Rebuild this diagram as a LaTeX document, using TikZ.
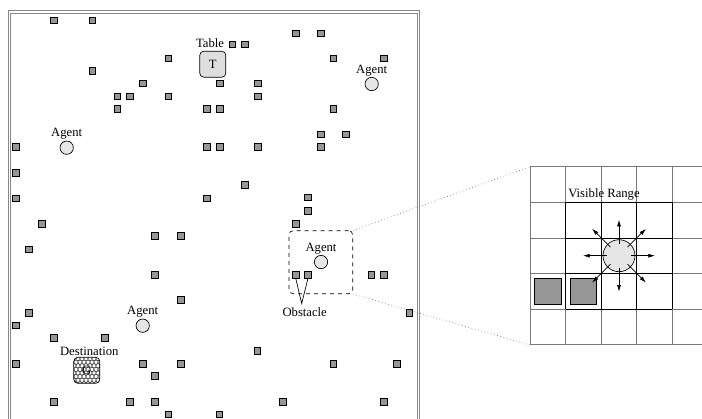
\documentclass[tikz,border=0pt]{standalone}
\usepackage{fontspec}
\setmainfont{Liberation Serif}
\usetikzlibrary{arrows.meta,calc}
\definecolor{obsgray}{RGB}{150,150,150}
\definecolor{agentgray}{RGB}{230,230,230}
\definecolor{tablegray}{RGB}{222,222,222}
\definecolor{framegray}{RGB}{135,135,135}
\definecolor{linegray}{RGB}{120,120,120}
\def\cs{35.6}

\begin{document}
\begin{tikzpicture}[x=0.75pt,y=-0.75pt,font=\fontsize{9.5}{11}\selectfont,
  obs/.style={draw,fill=obsgray,line width=0.5pt,minimum size=4.9pt,inner sep=0pt},
  bigobs/.style={draw,fill=obsgray,line width=0.5pt,minimum size=20pt,inner sep=0pt},
  agent/.style={circle,draw,fill=agentgray,line width=0.5pt,minimum size=10pt,inner sep=0pt},
  goal/.style={draw,rounded corners=3pt,minimum size=19.5pt,inner sep=0pt,line width=0.5pt},
  zoomline/.style={linegray,dotted,line width=0.5pt},
  ray/.style={line width=0.5pt,-{Latex[length=5pt,width=3pt]}}]
  \useasboundingbox (0,0) rectangle (702,418);
  \clip (0,0) rectangle (702,418);
  % room
  \draw[framegray,line width=0.8pt,double,double distance=1pt] (9.3,12) rectangle (418.7,445);
  \foreach \x/\y in {53.7/20.3,92.3/20.3,295.7/33.3,321/33.3,232.3/44.3,244.7/44.3,
    168.3/58.3,333.3/58.3,384/58.3,92.3/71,142.7/83.3,220/83.3,257.7/83.3,
    117.3/96.3,130/96.3,168.3/96.3,257.7/96.3,117.3/109,206.7/109,220/109,333.3/109,
    321/134.3,346/134.3,15.7/146.7,206.7/146.7,220/146.7,257.7/146.7,321/146.7,
    15.7/172.7,244.7/185,15.7/198.3,206.7/198.3,308/197.3,308/211,41.7/224,295.7/224,
    155/236,180.7/236,29/249.3,155/274.7,371.3/274.7,384/274.7,180.7/300,29/312.7,
    409.3/313,15.7/325.3,54/338,104.7/338,257.3/351,15.7/363.7,142.7/363.7,180.7/363.7,
    333.3/363.7,396.7/363.7,155/376,54/401.7,130/401.7,155/401.7,282.7/401.7,384/401.7,
    168.3/414.3,219.3/414.3} {
    \node[obs] at (\x,\y) {};
  }
  \node[goal,fill=tablegray] (table) at (212.8,64.2) {T};
  \node (tablelbl) at (210,43.5) {Table};
  % destination with scale fill
  \begin{scope}
    \clip[rounded corners=3pt] (73.8,357.3) rectangle (99.8,383.3);
    \foreach \r in {0,...,8} {
      \foreach \c in {0,...,8} {
        \draw[black!75,line width=0.35pt] ({72+\c*4+mod(\r,2)*2},{355+\r*3.6}) circle (2.3);
      }
    }
  \end{scope}
  \node[goal] (dest) at (86.8,370.3) {G};
  \node (destlbl) at (89.3,351) {Destination};
  \foreach \n/\x/\y in {a/66.7/147.7,b/371.7/84,c/142.7/325.7,d/321/262} {
    \node[agent] (agent\n) at (\x,\y) {};
    \node[above=-2.6pt] at (agent\n.north) {Agent};
  }
  % obstacles pointed at
  \node[obs] (obsA) at (295.7,274.7) {};
  \node[obs] (obsB) at (308,274.7) {};
  \coordinate (vtip) at (301.7,303.5);
  \draw[line width=0.5pt] (obsA.south) -- (vtip) -- (obsB.south);
  \node (obslbl) at (304.7,312.5) {Obstacle};
  \node[draw,dashed,rounded corners=3pt,line width=0.5pt,minimum width=47.8pt,minimum height=47.2pt] (focus) at (320.8,262.2) {};
  % zoomed view
  \coordinate (gridtl) at (530,166.7);
  \coordinate (gridbl) at (530,345);
  \draw[zoomline] (focus.north east) -- (gridtl);
  \draw[zoomline] (focus.south east) -- (gridbl);
  \foreach \i in {0,...,5} {
    \draw[linegray,line width=0.6pt] ({530+\i*\cs},166.7) -- ({530+\i*\cs},345);
    \draw[linegray,line width=0.6pt] (530,{166.7+\i*\cs}) -- (720,{166.7+\i*\cs});
  }
  \foreach \i in {1,...,4} {
    \draw[line width=0.6pt] ({530+\i*\cs},{166.7+\cs}) -- ({530+\i*\cs},{166.7+4*\cs});
    \draw[line width=0.6pt] ({530+\cs},{166.7+\i*\cs}) -- ({530+4*\cs},{166.7+\i*\cs});
  }
  \node[bigobs] (gobsA) at (548,291.2) {};
  \node[bigobs] (gobsB) at (583.3,291.2) {};
  \node[agent,minimum size=24pt] (gagent) at (619,255.7) {};
  \foreach \a/\r in {0/36,90/36,180/36,270/36,45/38,135/38,225/38,315/38} {
    \draw[ray] ($(gagent.center)+(\a:12)$) -- ($(gagent.center)+(\a:\r)$);
  }
  \node (rangelbl) at (604,194.3) {Visible Range};
\end{tikzpicture}
\end{document}
